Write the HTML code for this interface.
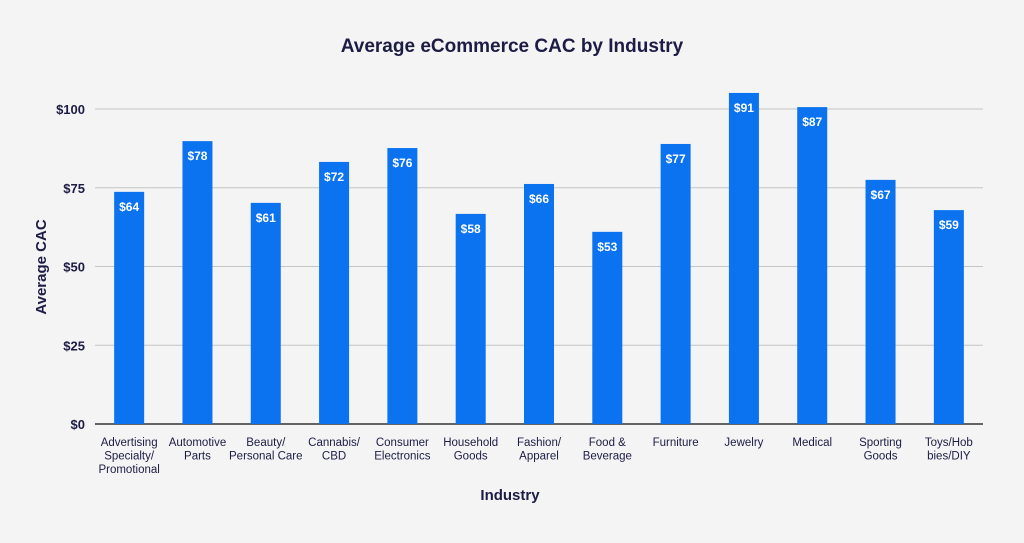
<!DOCTYPE html>
<html><head><meta charset="utf-8"><style>
body{margin:0;background:#f4f4f4;font-family:"Liberation Sans",sans-serif;}
svg text{font-family:"Liberation Sans",sans-serif;fill:#1c1c45;}
</style></head><body>
<svg id="c" width="1024" height="538">
<rect width="1024" height="538" fill="#f4f4f4"/>
<text x="512" y="52" text-anchor="middle" font-size="19" font-weight="bold">Average eCommerce CAC by Industry</text>
<text transform="translate(46,267) rotate(-90)" text-anchor="middle" font-size="15" font-weight="bold">Average CAC</text>
<text x="510" y="500" text-anchor="middle" font-size="15" font-weight="bold">Industry</text>
<g id="grid"></g><g id="bars"></g><g id="xl"></g>
</svg>
<script>
const categories=[["Advertising","Specialty/","Promotional"],["Automotive","Parts"],["Beauty/","Personal Care"],["Cannabis/","CBD"],["Consumer","Electronics"],["Household","Goods"],["Fashion/","Apparel"],["Food &","Beverage"],["Furniture"],["Jewelry"],["Medical"],["Sporting","Goods"],["Toys/Hob","bies/DIY"]];
const barHeights=[73.7,89.8,70.2,83.2,87.6,66.7,76.2,61,88.9,105.1,100.6,77.5,67.9];
const valueLabels=["$64","$78","$61","$72","$76","$58","$66","$53","$77","$91","$87","$67","$59"];
const yTicks=[0,25,50,75,100];
const yTickLabels=["$0","$25","$50","$75","$100"];
const NS="http://www.w3.org/2000/svg";
const L=95,R=983,Y0=424,Y100=109;
const y=v=>Y0-(Y0-Y100)*v/100;
const bw=(R-L)/categories.length;
const x=i=>L+bw*(i+0.5);
function mk(t,a,p){const e=document.createElementNS(NS,t);for(const k in a)e.setAttribute(k,a[k]);p.appendChild(e);return e;}
const g=document.getElementById('grid'),b=document.getElementById('bars'),xl=document.getElementById('xl');
yTicks.forEach((v,i)=>{
const ln=mk('line',{x1:L,x2:R,y1:y(v),y2:y(v),stroke:v===0?'#333':'#c4c4c4','stroke-width':v===0?1.5:1},g);


const t=mk('text',{x:85,y:y(v)+5,'text-anchor':'end','font-size':13,'font-weight':'bold'},g);
t.textContent=yTickLabels[i];


});
barHeights.forEach((v,i)=>{
const r=mk('rect',{x:x(i)-15,y:y(v),width:30,height:Y0-y(v),fill:'#0b72f0'},b);


const t=mk('text',{x:x(i),y:y(v)+19,'text-anchor':'middle','font-size':12,'font-weight':'bold',style:'fill:#fff'},b);
t.textContent=valueLabels[i];


const ct=mk('text',{'text-anchor':'middle','font-size':11.5},xl);


categories[i].forEach((s,j)=>{const sp=mk('tspan',{x:x(i),y:446+j*13.5},ct);sp.textContent=s;});
});
</script>
</body></html>
